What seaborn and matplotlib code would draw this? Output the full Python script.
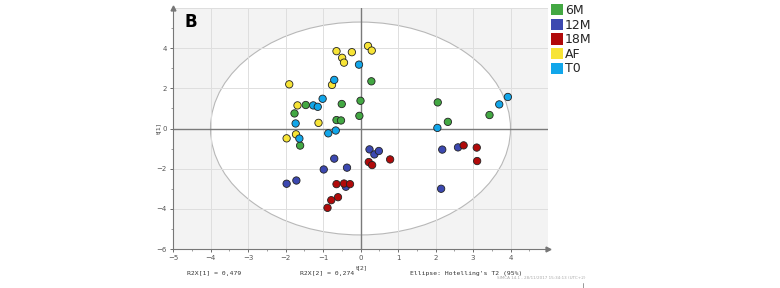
import matplotlib
matplotlib.use("Agg")
import matplotlib.pyplot as plt
from matplotlib.patches import Ellipse, Patch
import seaborn as sns
import pandas as pd
import numpy as np

groups = ["6M", "12M", "18M", "AF", "T0"]
colors = ["#43a843", "#3c48b0", "#b10a0a", "#f7e436", "#11a6ea"]

t2_6M = [0.29, 0.00, -0.50, -1.46, -1.76, -0.03, -0.64, -0.52, 2.06, 2.33, 3.44, -1.61]
t1_6M = [2.35, 1.38, 1.22, 1.17, 0.75, 0.63, 0.42, 0.40, 1.30, 0.33, 0.67, -0.85]

t2_12M = [0.24, 0.37, 0.49, 2.18, 2.60, -0.70, -0.98, -0.36, -1.97, -1.71, -0.39, 2.15]
t1_12M = [-1.04, -1.29, -1.12, -1.05, -0.94, -1.50, -2.04, -1.95, -2.75, -2.59, -2.90, -3.00]

t2_18M = [2.75, 3.10, 3.11, 0.79, 0.22, 0.31, -0.64, -0.44, -0.28, -0.60, -0.78, -0.88]
t1_18M = [-0.84, -0.95, -1.62, -1.54, -1.67, -1.82, -2.77, -2.74, -2.77, -3.42, -3.57, -3.95]

t2_AF = [0.20, 0.30, -0.64, -0.23, -0.49, -0.44, -1.90, -0.76, -1.68, -1.12, -1.97, -1.72]
t1_AF = [4.11, 3.88, 3.85, 3.80, 3.52, 3.28, 2.20, 2.17, 1.15, 0.28, -0.49, -0.29]

t2_T0 = [-0.04, -0.70, -1.01, -1.26, -1.14, -1.73, -0.66, -0.86, -1.63, 2.05, 3.70, 3.93]
t1_T0 = [3.18, 2.42, 1.48, 1.15, 1.08, 0.25, -0.10, -0.24, -0.50, 0.03, 1.20, 1.57]

xticks = [-5, -4, -3, -2, -1, 0, 1, 2, 3, 4]
yticks = [-6, -4, -2, 0, 2, 4]
r2x_1 = "0,479"
r2x_2 = "0,274"

frames = []
for g, xs, ys in [("6M", t2_6M, t1_6M), ("12M", t2_12M, t1_12M), ("18M", t2_18M, t1_18M),
                  ("AF", t2_AF, t1_AF), ("T0", t2_T0, t1_T0)]:
    frames.append(pd.DataFrame({"t2": xs, "t1": ys, "group": g}))
df = pd.concat(frames, ignore_index=True)

sns.set_style("white")
fig = plt.figure(figsize=(7.8, 2.88), dpi=100)
ax = fig.add_axes([173/780, 1 - 249/288, (548 - 173)/780, (249 - 8)/288])
ax.set_facecolor("#f3f3f3")

ell = Ellipse((0, 0), 8.0, 10.6, facecolor="white", edgecolor="#b8b8b8", lw=0.8, zorder=0.5)
ax.add_patch(ell)
for xv in range(-5, 6):
    ax.axvline(xv, color="#dedede", lw=0.7, zorder=1)
for yv in range(-6, 7, 2):
    ax.axhline(yv, color="#dedede", lw=0.7, zorder=1)
ax.axvline(0, color="#7a7a7a", lw=1.0, zorder=1.5)
ax.axhline(0, color="#7a7a7a", lw=1.0, zorder=1.5)

sns.scatterplot(data=df, x="t2", y="t1", hue="group", hue_order=groups,
                palette=dict(zip(groups, colors)), s=28, edgecolor="#222222",
                linewidth=0.6, ax=ax, legend=False, zorder=3)

ax.set_xlim(-5, 5)
ax.set_ylim(-6, 6.0)
ax.set_xticks(xticks)
ax.set_xticks([-4.5, -3.5, -2.5, -1.5, -0.5, 0.5, 1.5, 2.5, 3.5, 4.5], minor=True)
ax.set_yticks(yticks)
ax.set_yticks([-5, -3, -1, 1, 3, 5], minor=True)
ax.tick_params(axis="both", labelsize=5, colors="#555555", length=2.5, width=0.6, pad=2)
ax.tick_params(axis="both", which="minor", length=1.5, width=0.5, colors="#777777")
ax.tick_params(left=True, bottom=True)
ax.tick_params(which="minor", left=True, bottom=True)
ax.grid(False)
for s in ["top", "right"]:
    ax.spines[s].set_visible(False)
for s in ["left", "bottom"]:
    ax.spines[s].set_color("#777777")
    ax.spines[s].set_linewidth(0.8)
ax.plot([0], [1], marker="^", color="#777777", markersize=3.5, transform=ax.transAxes, clip_on=False)
ax.plot([1], [0], marker=">", color="#777777", markersize=3.5, transform=ax.transAxes, clip_on=False)

ax.set_xlabel("")
ax.set_ylabel("")
fig.text(361/780, 1 - 268/288, "t[2]", fontsize=4.5, color="#444444", ha="center", va="center")
fig.text(159/780, 1 - 128/288, "t[1]", fontsize=4.5, color="#444444", ha="center", va="center", rotation=90)

mono = "DejaVu Sans Mono"
fig.text(187/780, 1 - 273/288, "R2X[1] = " + r2x_1, fontsize=4.6, family=mono, color="#333333", va="center")
fig.text(300/780, 1 - 273/288, "R2X[2] = " + r2x_2, fontsize=4.6, family=mono, color="#333333", va="center")
fig.text(410/780, 1 - 273/288, "Ellipse: Hotelling's T2 (95%)", fontsize=4.6, family=mono, color="#333333", va="center")
fig.text(497/780, 1 - 278/288, "SIMCA 14.1 - 28/11/2017 15:34:13 (UTC+2)", fontsize=3.0, color="#aaaaaa", va="center")
fig.add_artist(plt.Line2D([583/780, 583/780], [1 - 283/288, 0], color="#888888", lw=0.6))

ax.text(-4.7, 5.3, "B", fontsize=12, fontweight="bold", color="black", ha="left", va="center", zorder=4)

handles = [Patch(facecolor=c, edgecolor="none") for c in colors]
fig.legend(handles, groups, loc="upper left", bbox_to_anchor=(551/780, 1 - 4/288),
           frameon=False, fontsize=9, handlelength=0.95, handleheight=1.0,
           handletextpad=0.15, labelspacing=0.13, borderpad=0.0, borderaxespad=0.0)

fig.savefig("out.png", dpi=100)
